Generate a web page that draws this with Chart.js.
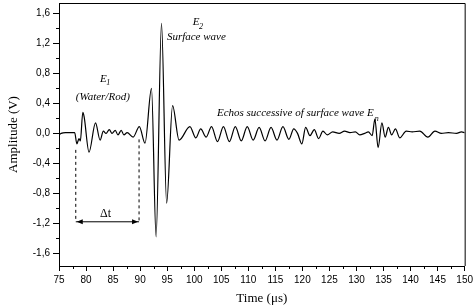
<!DOCTYPE html>
<html>
<head>
<meta charset="utf-8">
<script src="https://cdn.jsdelivr.net/npm/chart.js@4.4.0/dist/chart.umd.min.js"></script>
<style>
  body { margin: 0; background: #fff; }
</style>
</head>
<body>
<canvas id="wave" width="476" height="307"></canvas>
<script>
// signal: time (µs) and amplitude (V)
const times = [75.0, 75.4, 76.2, 77.2, 77.9, 78.3, 78.7, 78.95, 79.4, 79.65,
  80.55, 81.75, 82.6, 83.2, 83.7, 84.3, 84.8, 85.4, 85.9, 86.5,
  87.0, 87.6, 88.7, 89.85, 90.9, 92.1, 92.95, 93.95, 94.9, 96.0,
  97.2, 99.2, 100.3, 101.2, 102.2, 103.2, 104.3, 105.4, 106.5, 107.6,
  108.7, 109.8, 110.9, 112.0, 113.1, 114.2, 115.3, 116.4, 117.5, 118.4,
  119.1, 119.9, 120.6, 121.4, 122.2, 123.0, 123.8, 124.6, 125.6, 126.8,
  127.8, 128.8, 129.8, 130.6, 131.5, 132.2, 132.9, 133.4, 134.0, 134.7,
  135.3, 135.9, 136.5, 137.2, 138.0, 139.2, 140.3, 141.7, 143.2, 144.5,
  145.7, 147.0, 148.5, 149.4, 150.0];
const amps = [-0.02, 0.0, 0.01, 0.01, 0.01, -0.14, -0.07, -0.10, 0.28, 0.22,
  -0.25, 0.14, -0.09, 0.03, 0.0, 0.05, 0.0, 0.04, -0.02, 0.04,
  -0.02, 0.01, -0.05, 0.09, -0.13, 0.60, -1.38, 1.47, -0.93, 0.37,
  -0.09, 0.09, -0.06, 0.06, -0.05, 0.09, -0.11, 0.09, -0.11, 0.09,
  -0.10, 0.09, -0.09, 0.08, -0.10, 0.08, -0.09, 0.09, -0.08, 0.06,
  0.0, -0.14, 0.08, -0.03, 0.05, -0.07, 0.03, -0.02, 0.02, 0.0,
  0.03, 0.01, 0.02, -0.02, 0.0, 0.02, -0.03, 0.19, -0.19, 0.14,
  -0.05, 0.08, -0.02, 0.06, -0.06, 0.03, 0.02, 0.03, -0.05, 0.03,
  0.0, 0.01, 0.0, 0.02, 0.01];

// axis ticks
const xTicks = [75, 80, 85, 90, 95, 100, 105, 110, 115, 120, 125, 130, 135, 140, 145, 150];
const xMinor = [77.5, 82.5, 87.5, 92.5, 97.5, 102.5, 107.5, 112.5, 117.5, 122.5, 127.5, 132.5, 137.5, 142.5, 147.5];
const yTicks = [-1.6, -1.2, -0.8, -0.4, 0, 0.4, 0.8, 1.2, 1.6];
const yMinor = [-1.4, -1.0, -0.6, -0.2, 0.2, 0.6, 1.0, 1.4];

// delta t marker
const markT = [78.1, 89.8];
const markTop = [-0.22, -0.08];
const arrowY = -1.18;

const pts = times.map((t, i) => ({x: t, y: amps[i]}));

//frame, minor ticks and the text labels
const extras = {
  id: 'extras',
  afterDraw(chart) {
    const {ctx, chartArea: {left, right, top, bottom}, scales: {x, y}} = chart;
    ctx.save();
    ctx.strokeStyle = '#000';
    ctx.lineWidth = 1;
    ctx.beginPath();
    ctx.moveTo(left, top + 0.5);
    ctx.lineTo(right + 0.5, top + 0.5);
    ctx.lineTo(right + 0.5, bottom);
    yMinor.forEach(v => {
      const py = Math.round(y.getPixelForValue(v)) + 0.5;
      ctx.moveTo(left - 3, py); ctx.lineTo(left, py);
    });
    xMinor.forEach(v => {
      const px = Math.round(x.getPixelForValue(v)) + 0.5;
      ctx.moveTo(px, bottom); ctx.lineTo(px, bottom + 3);
    });
    ctx.stroke();

    // arrow heads
    const ay = y.getPixelForValue(arrowY);
    const l = x.getPixelForValue(markT[0]), r = x.getPixelForValue(markT[1]);
    ctx.fillStyle = '#000';
    ctx.beginPath();
    ctx.moveTo(l + 1, ay); ctx.lineTo(l + 7, ay - 2.5); ctx.lineTo(l + 7, ay + 2.5); ctx.closePath();
    ctx.moveTo(r - 1, ay); ctx.lineTo(r - 7, ay - 2.5); ctx.lineTo(r - 7, ay + 2.5); ctx.closePath();
    ctx.fill();

    const txt = (s, t, a, font, align) => {
      ctx.font = font;
      ctx.textAlign = align || 'left';
      ctx.textBaseline = 'alphabetic';
      ctx.fillText(s, x.getPixelForValue(t), y.getPixelForValue(a));
    };
    const it = 'italic 11px "Liberation Serif"';
    const sub = 'italic 8px "Liberation Serif"';
    txt('E', 82.6, 0.69, it);
    txt('1', 83.75, 0.64, sub);
    txt('(Water/Rod)', 83.1, 0.44, it, 'center');
    txt('E', 99.75, 1.44, it);
    txt('2', 100.9, 1.39, sub);
    txt('Surface wave', 94.95, 1.24, it);
    ctx.font = it;
    const s = 'Echos successive of surface wave E';
    txt(s, 104.2, 0.23, it);
    const w = ctx.measureText(s).width;
    ctx.font = sub;
    ctx.textAlign = 'left';
    ctx.fillText('n', x.getPixelForValue(104.2) + w + 1, y.getPixelForValue(0.17));
    txt('\u0394t', 83.6, -1.11, '12px "Liberation Serif"', 'center');
    ctx.restore();
  }
};

Chart.defaults.font.family = '"Liberation Sans", Arial, sans-serif';
Chart.defaults.font.size = 10;
Chart.defaults.color = '#000';

const config = {
  type: 'line',
  data: {
    datasets: [
      {data: pts, borderColor: '#000', borderWidth: 1.2, pointRadius: 0, cubicInterpolationMode: 'monotone', fill: false},
      {data: [{x: markT[0], y: markTop[0]}, {x: markT[0], y: arrowY}], borderColor: '#000', borderWidth: 1, borderDash: [3, 3], pointRadius: 0},
      {data: [{x: markT[1], y: markTop[1]}, {x: markT[1], y: arrowY}], borderColor: '#000', borderWidth: 1, borderDash: [3, 3], pointRadius: 0},
      {data: [{x: markT[0], y: arrowY}, {x: markT[1], y: arrowY}], borderColor: '#000', borderWidth: 1, pointRadius: 0}
    ]
  },
  options: {
    responsive: false,
    animation: false,
    events: [],
    layout: {padding: {left: 0, right: 11, top: 3, bottom: 0}},
    plugins: {legend: {display: false}, tooltip: {enabled: false}},
    scales: {
      x: {
        type: 'linear',
        min: 75, max: 150,
        afterBuildTicks: s => { s.ticks = xTicks.map(v => ({value: v})); },
        afterFit: s => { s.height = 41; },
        grid: {drawOnChartArea: false, color: '#000', tickLength: 5},
        border: {color: '#000'},
        ticks: {maxRotation: 0, autoSkip: false, padding: 3},
        title: {display: true, text: 'Time (\u03bcs)', font: {family: '"Liberation Serif"', size: 13}, padding: {top: 0, bottom: 1}}
      },
      y: {
        min: -1.77, max: 1.74,
        afterBuildTicks: s => { s.ticks = yTicks.map(v => ({value: v})); },
        afterFit: s => { s.width = 59; s.paddingTop = 0; s.paddingBottom = 0; },
        grid: {drawOnChartArea: false, color: '#000', tickLength: 6},
        border: {color: '#000'},
        ticks: {padding: 3, callback: v => v.toFixed(1).replace('.', ',')},
        title: {display: true, text: 'Amplitude (V)', font: {family: '"Liberation Serif"', size: 13}, padding: {top: 6, bottom: 0}}
      }
    }
  },
  plugins: [extras]
};

const wave = new Chart(document.getElementById('wave'), config);
</script>
</body>
</html>
